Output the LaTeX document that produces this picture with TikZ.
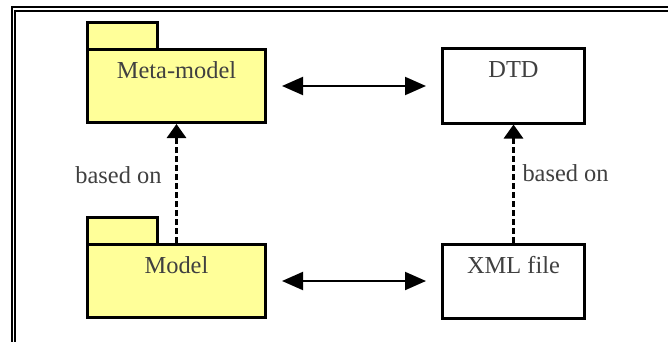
\documentclass[tikz,border=0pt]{standalone}
\usepackage{fontspec}
\setmainfont{Liberation Serif}
\usepackage{xcolor}
\usepackage{tikz}
\usetikzlibrary{arrows.meta,positioning}

\definecolor{pkgyellow}{HTML}{FFFF99}

\begin{document}
\begin{tikzpicture}[
    x=0.5pt, y=-0.5pt,
    node distance=59.5pt and 87pt,
    package/.style={rectangle, draw=black, line width=1.5pt, fill=pkgyellow, minimum width=89pt, minimum height=36.5pt, inner sep=0pt},
    pkgtab/.style={rectangle, draw=black, line width=1.5pt, fill=pkgyellow, minimum width=35pt, minimum height=13.5pt, inner sep=0pt, anchor=south west, yshift=-1.5pt},
    artifact/.style={rectangle, draw=black, line width=1.5pt, fill=white, minimum width=71pt, minimum height=37pt, inner sep=0pt},
    boxtext/.style={anchor=north, yshift=-3.5pt, font=\fontsize{12.2}{14}\selectfont, text=black!75},
    note/.style={inner sep=0pt, font=\fontsize{12.2}{14}\selectfont, text=black!75},
    assoc/.style={{Triangle[length=10.5pt,width=9pt]}-{Triangle[length=10.5pt,width=9pt]}, line width=1pt, shorten <=7.5pt, shorten >=7.5pt},
    basedon/.style={-{Triangle[length=7pt,width=9.5pt]}, line width=1.5pt, dash pattern=on 3pt off 1.5pt},
]

\useasboundingbox (0,0) rectangle (668,342);

% Frame (double rule, top and left)
\draw[line width=1pt] (11.5,342) |- (668,7.5);
\draw[line width=0.75pt] (15,342) |- (668,11);

% Packages
\node[package, label={[boxtext]north:Meta-model}] (meta) at (176.5,86) {};
\node[pkgtab] (metatab) at (meta.north west) {};
\node[package, below=of meta, label={[boxtext]north:Model}] (model) {};
\node[pkgtab] (modeltab) at (model.north west) {};

% Documents
\node[artifact, right=of meta, label={[boxtext]north:DTD}] (dtd) {};
\node[artifact, right=of model, label={[boxtext]north:XML file}] (xml) {};

% Arrows - correspondence
\draw[assoc] (meta) -- (dtd);
\draw[assoc] (model) -- (xml);

% Arrows - based on
\draw[basedon] (model) -- node[note, left=6.75pt, pos=0.57] {based on} (meta);
\draw[basedon] (xml) -- node[note, right=3.75pt, pos=0.585] {based on} (dtd);

\end{tikzpicture}
\end{document}
